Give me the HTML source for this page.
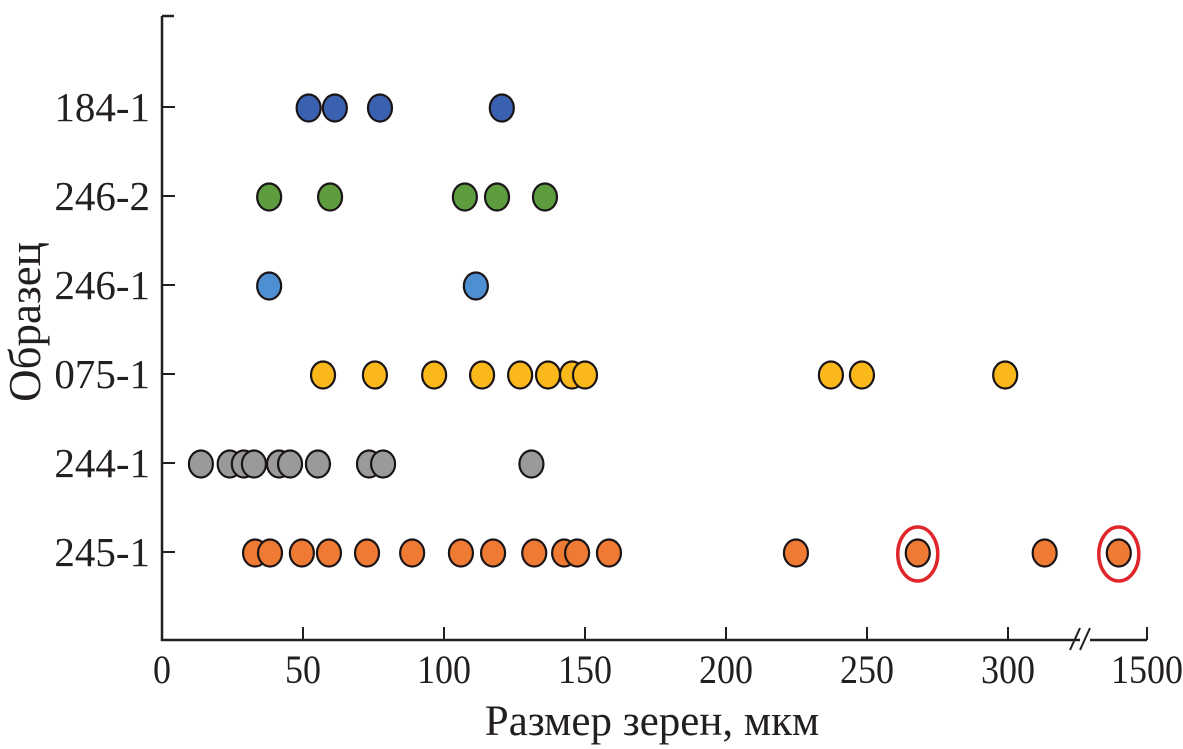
<!DOCTYPE html>
<html><head><meta charset="utf-8">
<style>
html,body{margin:0;padding:0;background:#fff;}
svg{display:block;font-family:"Liberation Serif","DejaVu Serif",serif;}
</style></head>
<body>
<svg id="chart" width="1183" height="749" viewBox="0 0 1183 749" xmlns="http://www.w3.org/2000/svg">
<g id="axes"></g>
<g id="marks"></g>
<text x="652" y="735" text-anchor="middle" font-size="43" fill="#231f20">Размер зерен, мкм</text>
<text transform="translate(40,322) rotate(-90)" text-anchor="middle" font-size="45" fill="#231f20">Образец</text>
</svg>
<script>
const samples = ["184-1","246-2","246-1","075-1","244-1","245-1"];
const colors = ["#3a61b0","#5d9c3f","#4d8fd1","#fbb81b","#9a9a9a","#ee7a33"];
const s184_1 = [52, 61.3, 77.3, 120.5];
const s246_2 = [38, 59.6, 107.4, 118.8, 135.8];
const s246_1 = [38, 111.3];
const s075_1 = [57.1, 75.5, 96.5, 113.5, 127, 136.9, 145.4, 150, 237.2, 248.2, 299];
const s244_1 = [13.8, 24, 29, 32.6, 41.5, 45.4, 55.3, 73.4, 78.4, 131];
const s245_1 = [33, 38.3, 49.6, 59.2, 72.7, 88.7, 106, 117.4, 132, 142.6, 147.2, 158.5, 224.8, 268, 313, 1490];
const highlighted = [268, 1490];
const xTicks = [0, 50, 100, 150, 200, 250, 300, 1500];
const series = [s184_1, s246_2, s246_1, s075_1, s244_1, s245_1];

const NS = "http://www.w3.org/2000/svg";
const X0 = 162, PPU = 2.82, X1500 = 1147;
function xScale(v){ return v >= 1000 ? X1500 + (v - 1500) * PPU : X0 + v * PPU; }
function yScale(i){ return 107 + i * 89; }
function mk(tag, attrs, parent){ const e=document.createElementNS(NS,tag); for(const k in attrs) e.setAttribute(k,attrs[k]); parent.appendChild(e); return e; }

const axes = document.getElementById("axes");
const marks = document.getElementById("marks");
const AX_Y = 640, ink = "#231f20";
let e;
e = mk("path",{d:`M${X0} 16 H174 M${X0} 16 V${AX_Y} H1080 M1090 ${AX_Y} H${X1500}`,stroke:ink,"stroke-width":2.5,fill:"none"},axes);


e = mk("path",{d:`M1070 ${AX_Y+10} L1080 ${AX_Y-12} M1080 ${AX_Y+10} L1090 ${AX_Y-12}`,stroke:ink,"stroke-width":2,fill:"none"},axes);


xTicks.forEach(t=>{
  const x = xScale(t);
  if(t>0){ const l = mk("line",{x1:x,x2:x,y1:AX_Y,y2:AX_Y-13,stroke:ink,"stroke-width":2},axes);
    
     }
  const tx = mk("text",{x:x,y:AX_Y+43,"text-anchor":"middle","font-size":40,fill:ink,transform:`translate(${x},0) scale(0.9,1) translate(${-x},0)`},axes);
  tx.textContent = t;
  
  
});
samples.forEach((s,i)=>{
  const y = yScale(i);
  const l = mk("line",{x1:X0,x2:X0+13,y1:y,y2:y,stroke:ink,"stroke-width":2},axes);
  
  
  const tx = mk("text",{x:150,y:y+14,"text-anchor":"end","font-size":41,fill:ink},axes);
  tx.textContent = s;
  
  
});
series.forEach((arr,i)=>{
  const y = yScale(i) + 1;
  arr.forEach(v=>{
    const c = mk("ellipse",{cx:xScale(v),cy:y,rx:12,ry:13.5,fill:colors[i],stroke:"#1a1416","stroke-width":2.2},marks);
    
    
  });
});
highlighted.forEach(v=>{
  const c = mk("ellipse",{cx:xScale(v),cy:yScale(5)+2,rx:20,ry:27,fill:"none",stroke:"#e0262b","stroke-width":3.5},marks);
  
  
});
</script>
</body></html>
